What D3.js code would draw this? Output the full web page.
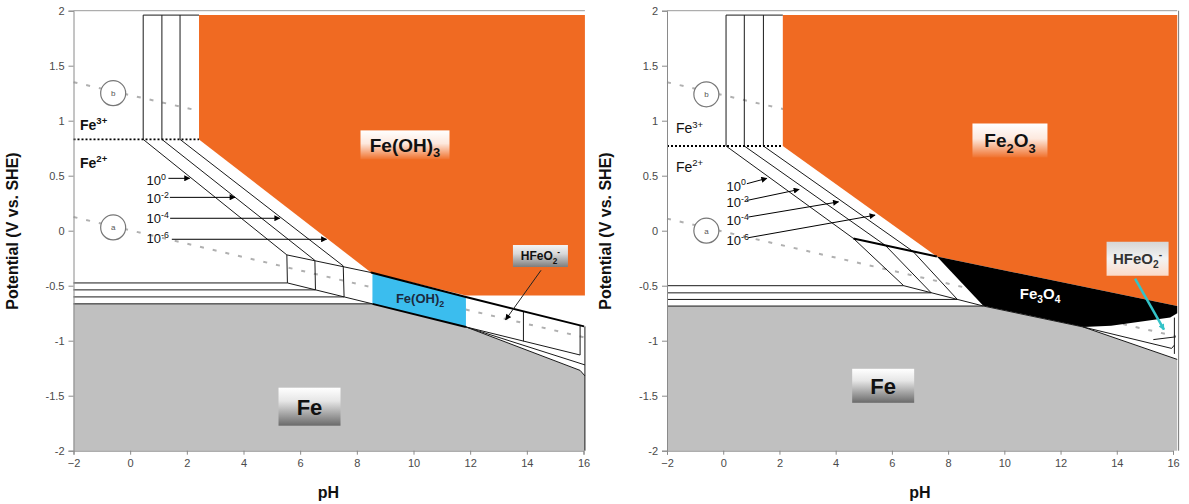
<!DOCTYPE html>
<html><head><meta charset="utf-8">
<script src="https://cdn.jsdelivr.net/npm/d3@7"></script>
<style>body{margin:0;background:#fff}svg{display:block;font-family:"Liberation Sans",Arial,sans-serif}</style>
</head><body><svg id="c" width="1189" height="504"></svg>
<script>
// ---------- shared ticks ----------
const xTickValues = [-2,0,2,4,6,8,10,12,14,16];
const yTickValues = [-2,-1.5,-1,-0.5,0,0.5,1,1.5,2];
const yTickLabels = ["-2","-1.5","-1","-0.5","0","0.5","1","1.5","2"];
const concLabels = ["0","-2","-4","-6"];

// ---------- LEFT panel (Fe(OH)3 / Fe(OH)2) : [pH, E] ----------
const L_waterA = [[-2,0.125],[16.02,-0.97]];
const L_waterB = [[-2,1.35],[16.02,0.29]];
const L_orange = [[2.43,1.96],[16.05,1.96],[16.05,-0.59],[11.85,-0.59],[8.5,-0.38],[2.43,0.83]];
const L_cyan   = [[8.55,-0.385],[11.85,-0.603],[11.85,-0.875],[8.55,-0.663]];
const L_fe     = [[-2,-2],[-2,-0.665],[8.55,-0.665],[11.85,-0.875],[15.88,-1.27],[16.05,-1.32],[16.05,-2]];
const L_thin = [
  [[0.46,1.96],[0.46,0.83],[5.53,-0.22]],
  [[1.12,1.96],[1.12,0.83],[6.52,-0.27]],
  [[1.76,1.96],[1.76,0.83],[7.52,-0.32]],
  [[0.46,1.96],[2.43,1.96]],
  [[5.53,-0.22],[8.5,-0.38]],
  [[5.53,-0.22],[5.55,-0.475]],
  [[6.52,-0.27],[6.54,-0.538]],
  [[7.52,-0.32],[7.55,-0.602]],
  [[5.55,-0.475],[8.55,-0.665]],
  [[-2,-0.475],[5.55,-0.475]],
  [[-2,-0.538],[6.54,-0.538]],
  [[-2,-0.602],[7.55,-0.602]],
  [[-2,-0.665],[8.55,-0.665]],
  [[13.88,-0.735],[13.88,-1.005]],
  [[11.85,-0.875],[15.88,-1.13],[15.88,-0.86]],
  [[11.85,-0.875],[16.05,-1.22]],
  [[11.85,-0.875],[15.88,-1.27],[16.05,-1.32]],
  [[16.05,-0.87],[16.05,-2]]
];
const L_thick = [
  [[8.5,-0.38],[11.85,-0.603],[16.02,-0.87]],
  [[8.55,-0.665],[11.85,-0.875]]
];
const L_dotted = [[-2,0.83],[2.43,0.83]];
const L_concText = [[0.58,0.46],[0.58,0.296],[0.58,0.115],[0.58,-0.066]];
const L_concArrows = [
  [[1.35,0.476],[2.1,0.476]],
  [[1.40,0.303],[3.7,0.303]],
  [[1.41,0.113],[5.28,0.113]],
  [[1.47,-0.078],[6.93,-0.078]]
];
const L_circles = [["b",-0.6,1.25],["a",-0.6,0.03]];
const L_ions = [["3+",-1.77,0.96],["2+",-1.77,0.615]];

// ---------- RIGHT panel (Fe2O3 / Fe3O4) ----------
const R_waterA = [[-2,0.11],[16.1,-0.96]];
const R_waterB = [[-2,1.35],[16.1,0.28]];
const R_orange = [[2.12,1.96],[16.15,1.96],[16.15,-0.685],[7.6,-0.235],[2.12,0.77]];
const R_black  = [[7.6,-0.235],[16.15,-0.685],[16.15,-0.75],[15.9,-0.79],[13.8,-0.865],[12.8,-0.875],[9.26,-0.685]];
const R_fe     = [[-2,-2],[-2,-0.685],[9.26,-0.685],[12.8,-0.875],[16.15,-1.17],[16.15,-2]];
const R_thin = [
  [[0.10,1.96],[0.10,0.77],[4.63,-0.07]],
  [[0.75,1.96],[0.75,0.77],[5.77,-0.134]],
  [[1.43,1.96],[1.43,0.77],[6.75,-0.188]],
  [[0.10,1.96],[2.12,1.96]],
  [[4.63,-0.07],[6.42,-0.50]],
  [[5.77,-0.134],[7.4,-0.565]],
  [[6.75,-0.188],[8.33,-0.625]],
  [[6.42,-0.50],[9.26,-0.685]],
  [[-2,-0.50],[6.42,-0.50]],
  [[-2,-0.565],[7.4,-0.565]],
  [[-2,-0.625],[8.33,-0.625]],
  [[-2,-0.685],[9.26,-0.685]],
  [[9.26,-0.685],[12.8,-0.875],[16.15,-1.17]],
  [[12.8,-0.875],[15.95,-1.07],[16.05,-1.04]],
  [[15.3,-0.99],[16.1,-0.965]],
  [[16.05,-0.79],[16.05,-1.12]]
];
const R_thick = [[[4.63,-0.07],[7.6,-0.235]]];
const R_dotted = [[-2,0.77],[2.12,0.77]];
const R_concText = [[0.12,0.41],[0.12,0.26],[0.12,0.094],[0.12,-0.088]];
const R_concArrows = [
  [[0.84,0.427],[1.55,0.476]],
  [[0.84,0.275],[2.7,0.375]],
  [[0.89,0.124],[4.1,0.262]],
  [[0.89,-0.064],[5.4,0.141]]
];
const R_circles = [["b",-0.6,1.24],["a",-0.6,0.0]];
const R_ions = [["3+",-1.68,0.93],["2+",-1.68,0.58]];

// ---------- drawing ----------
const svg = d3.select("#c");
const defs = svg.append("defs");
function grad(id, stops){
  const g = defs.append("linearGradient").attr("id",id).attr("x1",0).attr("y1",0).attr("x2",0).attr("y2",1);
  stops.forEach(s=>g.append("stop").attr("offset",s[0]).attr("stop-color",s[1]).attr("stop-opacity",s[2]));
}
grad("gOr",[[0,"#ffffff",1],[0.45,"#ffffff",0.85],[1,"#ffffff",0.05]]);
grad("gFe",[[0,"#ffffff",1],[0.35,"#e6e6e6",1],[1,"#6a6a6a",1]]);
grad("gH1",[[0,"#f4f4f4",1],[0.4,"#d8d8d8",1],[1,"#7d7d7d",1]]);
grad("gH2",[[0,"#d6d6d6",1],[0.5,"#f2f2f2",1],[1,"#ffffff",0.75]]);
function marker(id,color){
  defs.append("marker").attr("id",id).attr("viewBox","0 0 10 10").attr("refX",9).attr("refY",5)
    .attr("markerWidth",7).attr("markerHeight",6).attr("markerUnits","userSpaceOnUse").attr("orient","auto")
    .append("path").attr("d","M0,0L10,5L0,10Z").attr("fill",color);
}
marker("mB","#000"); marker("mT","#33c3c8");

function rich(g, x, y, parts, o){
  const t = g.append("text").attr("x",x).attr("y",y).attr("font-size",o.size)
    .attr("font-weight",o.weight||"normal").attr("fill",o.fill||"#000").attr("text-anchor",o.anchor||"middle");
  let cur = 0;
  parts.forEach(p=>{
    const s = t.append("tspan").text(p.t);
    let target = 0;
    if(p.sub){ s.attr("font-size",o.size*0.68); target = o.size*0.28; }
    else if(p.sup){ s.attr("font-size",o.size*0.68); target = -o.size*0.42; }
    s.attr("dy", target-cur); cur = target;
  });
  return t;
}

function panel(P){
  const g = svg.append("g");
  const x = d3.scaleLinear().domain([-2,16]).range([P.px0,P.px1]);
  const y = d3.scaleLinear().domain([-2,2]).range([450.7,10.7]);
  const line = d3.line().x(d=>x(d[0])).y(d=>y(d[1]));

  [P.waterA,P.waterB].forEach(pts=>g.append("path").attr("d",line(pts)).attr("fill","none")
    .attr("stroke","#b0b0b0").attr("stroke-width",2).attr("stroke-dasharray","4,9"));
  P.regions.forEach(r=>g.append("path").attr("d",line(r[0])+"Z").attr("fill",r[1]));
  g.append("path").attr("d",line([[-2,2],[P.xEnd,2]])).attr("stroke","#9a9a9a").attr("stroke-width",1).attr("fill","none");
  if(P.rightBorder) g.append("path").attr("d",line([[P.rightBorder,2],[P.rightBorder,-2]])).attr("stroke","#777").attr("fill","none");
  P.thin.forEach(pts=>g.append("path").attr("d",line(pts)).attr("fill","none").attr("stroke","#1a1a1a").attr("stroke-width",1).attr("stroke-linejoin","round"));
  P.thick.forEach(pts=>g.append("path").attr("d",line(pts)).attr("fill","none").attr("stroke","#000").attr("stroke-width",2));
  g.append("path").attr("d",line(P.dotted)).attr("fill","none").attr("stroke","#000").attr("stroke-width",1.8).attr("stroke-dasharray","2,2");

  const ya = g.append("g").attr("transform",`translate(${x(-2)},0)`)
    .call(d3.axisLeft(y).tickValues(yTickValues).tickFormat((d,i)=>yTickLabels[i]).tickSize(5).tickPadding(4));
  const xa = g.append("g").attr("transform",`translate(0,${y(-2)})`)
    .call(d3.axisBottom(x).tickValues(xTickValues).tickFormat(d3.format("d")).tickSize(4).tickPadding(5));
  [ya,xa].forEach(a=>{
    a.select(".domain").attr("stroke","#8a8a8a");
    a.selectAll(".tick line").attr("stroke","#8a8a8a");
    a.selectAll("text").attr("fill","#4a4a4a").attr("font-size",11).attr("font-family","Liberation Sans, Arial");
  });

  P.circles.forEach(c=>{
    g.append("circle").attr("cx",x(c[1])).attr("cy",y(c[2])).attr("r",12.5).attr("fill","#fff").attr("stroke","#777").attr("stroke-width",1.2);
    g.append("text").attr("x",x(c[1])).attr("y",y(c[2])+3).attr("text-anchor","middle").attr("font-size",8).attr("fill","#555").text(c[0]);
  });
  P.ions.forEach(c=>rich(g,x(c[1]),y(c[2])+5,[{t:"Fe"},{t:c[0],sup:true}],{size:14,weight:P.ionWeight,anchor:"start",fill:"#111"}));
  P.concText.forEach((c,i)=>rich(g,x(c[0]),y(c[1])+5,[{t:"10"},{t:concLabels[i],sup:true}],{size:13,anchor:"start",fill:"#111"}));
  P.concArrows.forEach(a=>g.append("path").attr("d",line(a)).attr("stroke","#000").attr("stroke-width",1).attr("fill","none").attr("marker-end","url(#mB)"));

  P.boxes.forEach(b=>{
    const cx=x(b.at[0]), cy=y(b.at[1]);
    g.append("rect").attr("x",cx-b.w/2).attr("y",cy-b.h/2).attr("width",b.w).attr("height",b.h).attr("fill",`url(#${b.grad})`);
    rich(g,cx,cy+b.size*0.36,b.parts,{size:b.size,weight:"bold",fill:b.fill||"#111"});
  });
  P.plain.forEach(b=>rich(g,x(b.at[0]),y(b.at[1])+b.size*0.36,b.parts,{size:b.size,weight:"bold",fill:b.fill}));
  P.arrows.forEach(a=>g.append("path").attr("d",line(a.pts)).attr("stroke",a.color).attr("stroke-width",a.w).attr("fill","none").attr("marker-end",`url(#${a.m})`));

  g.append("text").attr("transform",`translate(${P.titleX},231) rotate(-90)`).attr("text-anchor","middle")
    .attr("font-size",16).attr("font-weight","bold").attr("fill","#111").text("Potential (V vs. SHE)");
  g.append("text").attr("x",x(7)).attr("y",498).attr("text-anchor","middle")
    .attr("font-size",16).attr("font-weight","bold").attr("fill","#111").text("pH");
}

panel({
  px0:73.5, px1:583.5, xEnd:16.05, rightBorder:null, titleX:18, ionWeight:"bold",
  waterA:L_waterA, waterB:L_waterB,
  regions:[[L_orange,"#f06a22"],[L_cyan,"#3bbdee"],[L_fe,"#c0c0c0"]],
  thin:L_thin, thick:L_thick, dotted:L_dotted,
  concText:L_concText, concArrows:L_concArrows, circles:L_circles, ions:L_ions,
  boxes:[
    {at:[9.7,0.78],w:89,h:29,grad:"gOr",size:19,parts:[{t:"Fe(OH)"},{t:"3",sub:true}]},
    {at:[6.33,-1.6],w:62,h:38,grad:"gFe",size:22,parts:[{t:"Fe"}]},
    {at:[14.48,-0.23],w:55,h:22,grad:"gH1",size:12,parts:[{t:"HFeO"},{t:"2",sub:true},{t:"-",sup:true}]}
  ],
  plain:[{at:[10.23,-0.615],size:13,fill:"#1b2a3f",parts:[{t:"Fe(OH)"},{t:"2",sub:true}]}],
  arrows:[{pts:[[14.5,-0.36],[13.25,-0.81]],color:"#222",w:1,m:"mB"}]
});

panel({
  px0:667, px1:1173, xEnd:16.15, rightBorder:16.2, titleX:611, ionWeight:"normal",
  waterA:R_waterA, waterB:R_waterB,
  regions:[[R_orange,"#f06a22"],[R_black,"#000000"],[R_fe,"#c0c0c0"]],
  thin:R_thin, thick:R_thick, dotted:R_dotted,
  concText:R_concText, concArrows:R_concArrows, circles:R_circles, ions:R_ions,
  boxes:[
    {at:[10.2,0.82],w:75,h:34,grad:"gOr",size:19,parts:[{t:"Fe"},{t:"2",sub:true},{t:"O"},{t:"3",sub:true}]},
    {at:[5.69,-1.41],w:62,h:34,grad:"gFe",size:22,parts:[{t:"Fe"}]},
    {at:[14.74,-0.255],w:62,h:34,grad:"gH2",size:15,fill:"#333",parts:[{t:"HFeO"},{t:"2",sub:true},{t:"-",sup:true}]}
  ],
  plain:[{at:[11.27,-0.57],size:15,fill:"#ffffff",parts:[{t:"Fe"},{t:"3",sub:true},{t:"O"},{t:"4",sub:true}]}],
  arrows:[{pts:[[14.65,-0.436],[15.68,-0.9]],color:"#33c3c8",w:2.5,m:"mT"}]
});
</script></body></html>
